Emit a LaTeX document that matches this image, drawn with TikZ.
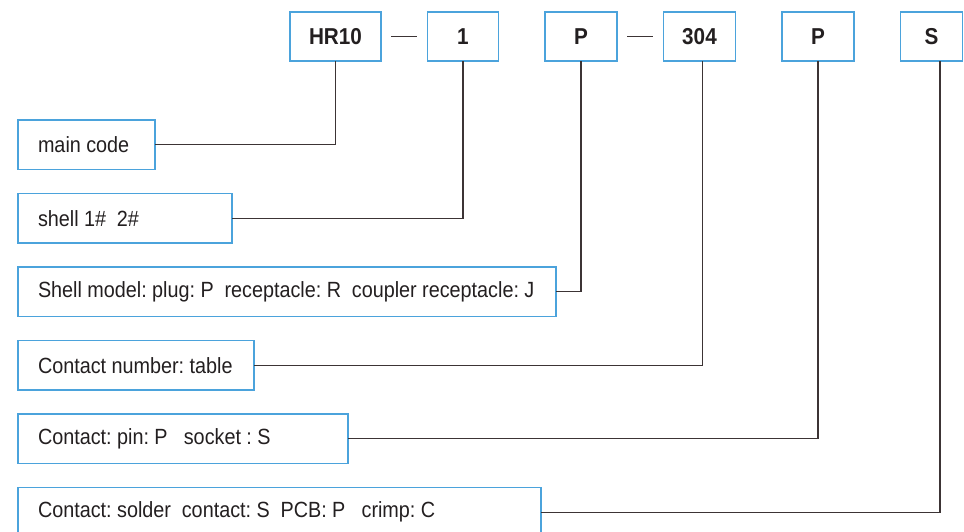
\documentclass[tikz,border=0pt]{standalone}
\usepackage{fontspec}
\setmainfont[FakeStretch=0.9]{Liberation Sans}
\usepackage{tikz}
\usetikzlibrary{positioning}

\definecolor{frameblue}{RGB}{75,163,220}
\definecolor{wire}{RGB}{60,52,53}
\definecolor{ink}{RGB}{35,31,32}

\DeclareRobustCommand\fieldfont{\fontsize{22}{26}\selectfont\fontdimen2\font=5.4pt\relax\frenchspacing}

\begin{document}
\frenchspacing
\begin{tikzpicture}[
    x=1pt, y=-1pt,
    node distance=24pt and 46.5pt,
    code/.style={draw=frameblue, line width=1.2pt, outer sep=0pt, minimum height=49pt, minimum width=72pt, inner sep=0pt, text=ink, font=\fontsize{23}{27}\selectfont\bfseries},
    field/.style={draw=frameblue, line width=1.2pt, outer sep=0pt, minimum height=49.5pt, inner xsep=20pt, inner ysep=0pt, align=flush left, text=ink, font=\fieldfont},
    wire/.style={draw=wire, line width=1.3pt},
]
\useasboundingbox (0,0) rectangle (964,531);

% Row 1: order code
\node[code, anchor=north west, minimum width=91pt] (series) at (290,12) {HR10};
\node[code, right=of series, minimum width=71pt] (size) {1};
\node[code, right=of size] (model) {P};
\node[code, right=of model] (count) {304};
\node[code, right=of count] (contact) {P};
\node[code, right=of contact, minimum width=62pt] (term) {S};

% dashes in the code
\draw[wire] ([xshift=10pt]series.east) -- ([xshift=-11pt]size.west);
\draw[wire] ([xshift=10pt]model.east) -- ([xshift=-11pt]count.west);

% Legend boxes
\node[field, anchor=north west, text width=97pt] (mainbox) at (18,120) {main code};
\node[field, below=24pt of mainbox.south west, anchor=north west, text width=174pt] (sizebox) {shell 1\#\ \ 2\#};
\node[field, below=24pt of sizebox.south west, anchor=north west, text width=498pt] (modelbox) {Shell model: plug: P\ \ receptacle: R\ \ coupler receptacle: J};
\node[field, below=24pt of modelbox.south west, anchor=north west, text width=196pt] (countbox) {Contact number: table};
\node[field, below=24pt of countbox.south west, anchor=north west, text width=290pt] (contactbox) {Contact: pin: P\ \ \ socket : S};
\node[field, below=24pt of contactbox.south west, anchor=north west, text width=483pt] (termbox) {Contact: solder\ \ contact: S\ \ PCB: P\ \ \ crimp: C};

% Leader lines
\draw[wire] (mainbox.east) -| (series.south);
\draw[wire] (sizebox.east) -| (size.south);
\draw[wire] (modelbox.east) -| (model.south);
\draw[wire] (countbox.east) -| ([xshift=3pt]count.south);
\draw[wire] (contactbox.east) -| (contact.south);
\draw[wire] (termbox.east) -| ([xshift=8.5pt]term.south);

\end{tikzpicture}
\end{document}
